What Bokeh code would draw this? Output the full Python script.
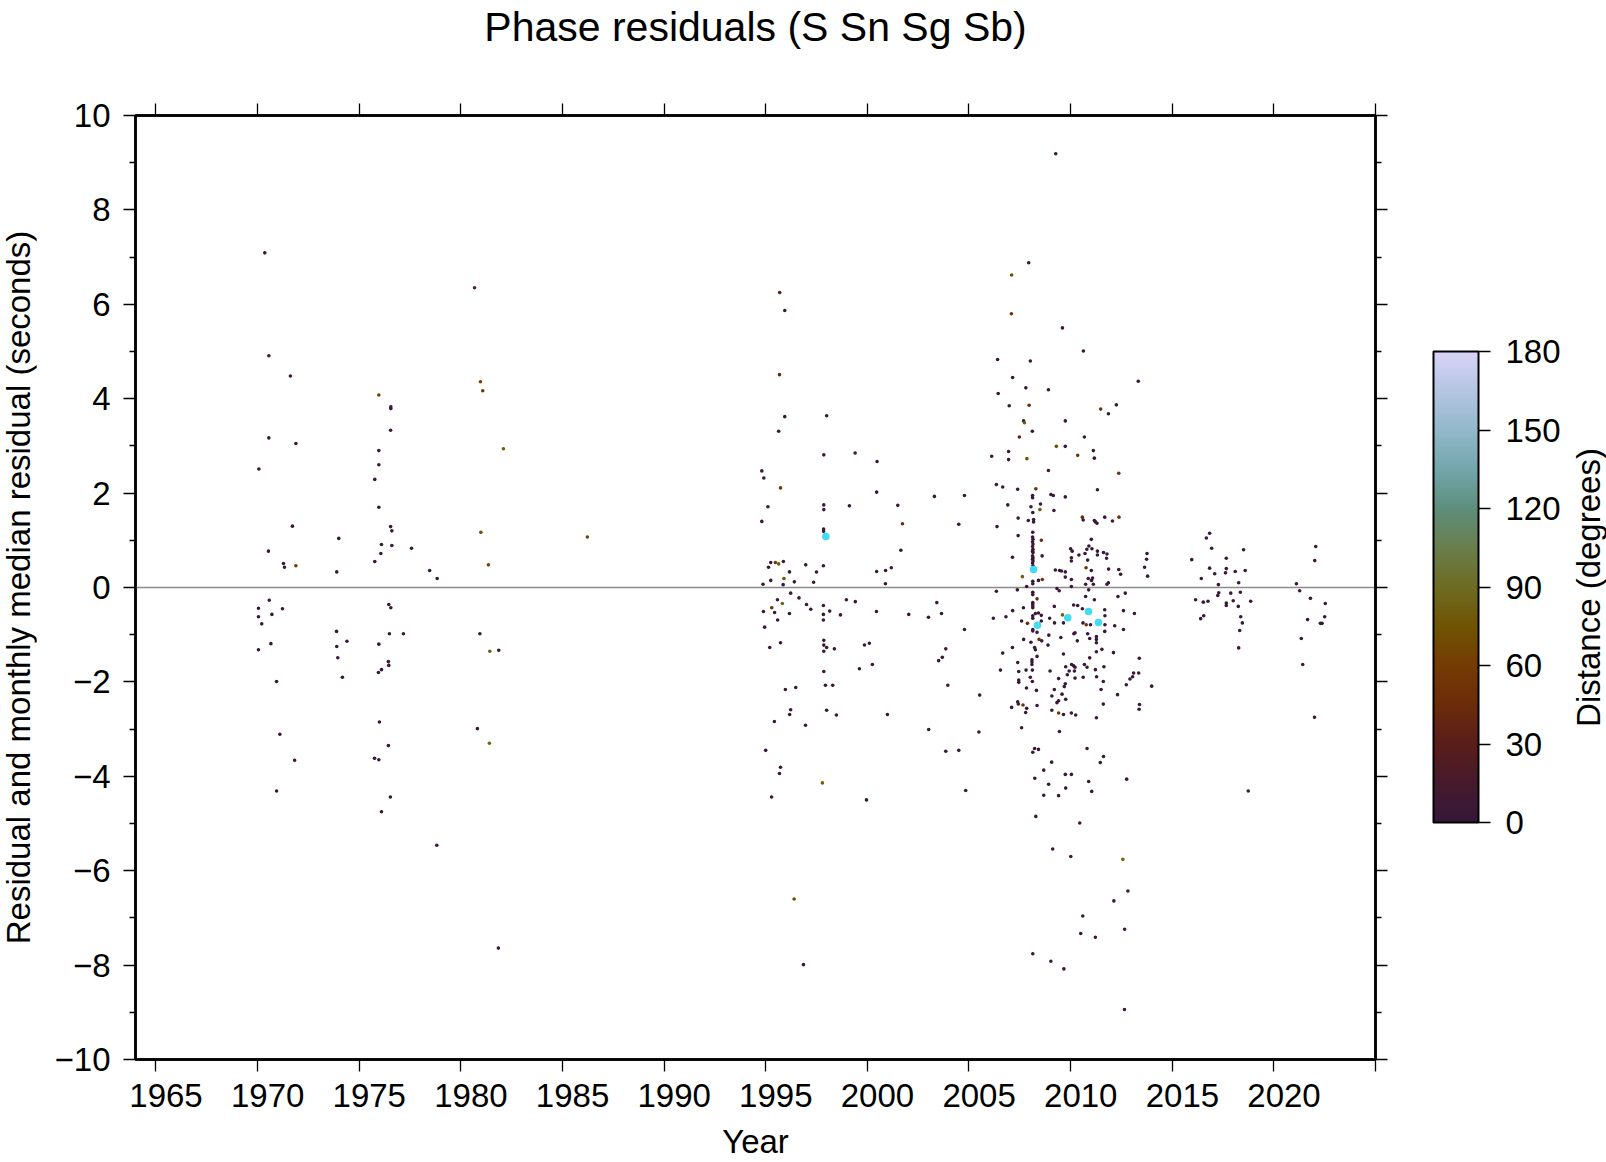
import math
from bokeh.plotting import figure
from bokeh.layouts import row
from bokeh.models import (Range1d, LinearAxis, FixedTicker, LinearColorMapper,
                          ColorBar, Span, ColumnDataSource)
from bokeh.embed import file_html
from bokeh.resources import INLINE

# ---------------- data (year, residual seconds, distance degrees) ----------------
P = 4  # distance of the dark (near-source) readings

pts_1970s = [
    (1970.36, 7.09, P), (1980.68, 6.35, 35), (1970.56, 4.91, P), (1971.62, 4.48, P),
    (1980.97, 4.36, 65), (1981.08, 4.17, 55), (1975.97, 4.08, 65), (1976.56, 3.83, P),
    (1976.56, 3.79, P), (1976.55, 3.33, P), (1970.56, 3.17, P), (1971.89, 3.05, P),
    (1982.10, 2.94, 80), (1975.97, 2.90, P), (1970.07, 2.51, P), (1975.97, 2.60, P),
    (1975.77, 2.29, P), (1975.97, 1.70, P), (1971.72, 1.30, P), (1976.55, 1.29, P),
    (1976.61, 1.20, P), (1980.99, 1.17, 65), (1974.00, 1.04, P), (1970.54, 0.77, P),
    (1976.10, 0.91, P), (1976.61, 0.89, P), (1977.58, 0.83, P), (1976.07, 0.72, P),
    (1971.28, 0.51, P), (1971.33, 0.43, P), (1971.89, 0.46, 60), (1975.77, 0.55, P),
    (1973.90, 0.33, P), (1978.47, 0.36, P), (1978.84, 0.19, P), (1981.36, 0.48, 65),
    (1986.23, 1.07, 65),
    (1970.58, -0.27, P), (1970.05, -0.44, P), (1971.23, -0.45, P), (1970.71, -0.57, P),
    (1970.05, -0.62, P), (1970.21, -0.77, P), (1976.46, -0.36, P), (1976.56, -0.43, P),
    (1973.89, -0.93, P), (1976.49, -0.98, P), (1977.18, -0.98, P), (1980.94, -0.98, P),
    (1974.40, -1.14, P), (1970.66, -1.19, P), (1975.97, -1.20, P), (1973.90, -1.25, P),
    (1970.05, -1.32, P), (1981.43, -1.35, 85), (1981.87, -1.33, P), (1973.95, -1.49, P),
    (1976.44, -1.57, P), (1976.46, -1.65, P), (1976.10, -1.74, P), (1975.95, -1.80, P),
    (1974.18, -1.90, P), (1970.94, -1.99, P), (1976.00, -2.85, P), (1980.82, -2.99, P),
    (1971.10, -3.11, P), (1981.41, -3.30, 85), (1976.44, -3.35, P), (1975.76, -3.62, P),
    (1975.97, -3.65, P), (1971.83, -3.66, P), (1970.94, -4.31, P), (1976.54, -4.44, P),
    (1976.10, -4.75, P), (1978.82, -5.46, P), (1981.85, -7.64, P),
]

pts_1990s = [
    (1995.69, 6.25, 30), (1995.94, 5.87, P), (1995.68, 4.51, 40), (1995.94, 3.62, P),
    (1998.00, 3.64, P), (1995.64, 3.31, P), (1997.86, 2.81, P), (1999.40, 2.85, P),
    (2000.48, 2.67, P), (1994.81, 2.47, P), (1994.91, 2.32, P), (1995.73, 2.11, 55),
    (2000.46, 2.02, P), (2003.30, 1.93, P), (2004.78, 1.95, P), (1995.11, 1.71, P),
    (1997.86, 1.75, P), (1997.86, 1.65, P), (1999.12, 1.73, P), (2001.50, 1.74, P),
    (1994.81, 1.40, P), (2001.73, 1.35, 45), (2004.50, 1.34, P), (1997.85, 1.24, P),
    (1997.85, 1.19, P), (2001.65, 0.79, P), (1995.25, 0.53, P), (1995.48, 0.53, 55),
    (1995.64, 0.50, 80), (1995.87, 0.55, P), (1995.14, 0.43, P), (1996.97, 0.48, P),
    (1997.84, 0.46, P), (1996.17, 0.33, P), (1997.50, 0.33, P), (2000.46, 0.34, P),
    (2000.90, 0.36, P), (2001.18, 0.42, P), (1995.25, 0.15, P), (1995.90, 0.19, 75),
    (1996.41, 0.12, P), (1997.36, 0.11, P), (1994.87, 0.07, P), (1995.86, 0.06, P),
    (2000.89, 0.08, P),
    (1996.23, -0.12, P), (1996.64, -0.22, P), (1995.58, -0.26, P), (1995.82, -0.34, 85),
    (1995.30, -0.43, 50), (1997.01, -0.36, P), (1997.22, -0.46, P), (1997.84, -0.38, P),
    (1998.97, -0.26, P), (1999.41, -0.30, P), (1994.89, -0.51, P), (1995.44, -0.53, P),
    (1996.17, -0.55, P), (1997.84, -0.57, P), (1998.15, -0.50, P), (1998.68, -0.58, P),
    (2000.45, -0.51, P), (2002.04, -0.57, P), (2003.01, -0.63, P), (2003.42, -0.32, P),
    (2003.65, -0.55, P), (1995.59, -0.69, P), (1997.84, -0.69, P), (1994.95, -0.84, P),
    (2004.78, -0.89, P), (1997.86, -1.12, P), (1995.73, -1.17, P), (1997.86, -1.22, P),
    (1998.00, -1.27, P), (1995.20, -1.27, P), (1998.38, -1.30, P), (1997.86, -1.35, P),
    (1999.86, -1.22, P), (2000.10, -1.18, P), (2003.86, -1.30, P), (2003.69, -1.48, P),
    (2003.51, -1.55, P), (2000.25, -1.63, P), (1999.61, -1.72, P), (1997.86, -1.78, P),
    (1997.94, -2.07, P), (1998.30, -2.07, P), (1996.48, -2.12, P), (1995.97, -2.16, P),
    (2003.96, -2.07, P), (1996.23, -2.59, P), (1996.18, -2.69, P), (1998.00, -2.60, P),
    (1998.48, -2.70, P), (2000.99, -2.69, P), (1995.43, -2.84, P), (1996.96, -2.92, P),
    (2003.02, -3.01, P), (1995.00, -3.45, P), (2003.86, -3.47, P), (2004.50, -3.45, P),
    (1995.73, -3.81, P), (1995.68, -3.94, P), (1997.79, -4.14, 80), (2004.84, -4.30, P),
    (1995.29, -4.44, P), (1999.96, -4.50, P), (1996.40, -6.60, 70), (1996.86, -7.99, P),
]

pts_2000s_upper = [
    (2009.27, 9.19, P), (2007.94, 6.88, P), (2007.10, 6.62, 70), (2007.09, 5.80, 50),
    (2009.60, 5.50, P), (2010.63, 5.01, P), (2006.41, 4.83, P), (2008.02, 4.80, P),
    (2007.15, 4.45, P), (2013.33, 4.37, P), (2007.80, 4.23, P), (2008.91, 4.19, P),
    (2006.44, 4.11, P), (2006.98, 3.85, P), (2007.96, 3.86, 45), (2012.25, 3.87, P),
    (2011.48, 3.78, 50), (2011.86, 3.68, P), (2007.69, 3.53, P), (2007.73, 3.49, 80),
    (2009.74, 3.53, P), (2008.12, 3.31, P), (2007.48, 3.19, 35), (2010.68, 3.19, P),
    (2009.30, 2.99, 70), (2009.74, 2.99, P), (2006.95, 2.88, P), (2011.12, 2.90, P),
    (2006.12, 2.78, P), (2006.95, 2.71, P), (2007.85, 2.73, 75), (2010.35, 2.80, 55),
    (2011.17, 2.74, P), (2008.91, 2.48, P), (2012.37, 2.42, 50), (2006.35, 2.18, P),
    (2006.66, 2.13, P), (2007.40, 2.08, P), (2008.29, 2.09, 50), (2008.13, 1.95, P),
    (2008.13, 1.90, P), (2009.03, 1.97, P), (2009.15, 1.95, P), (2009.74, 1.92, P),
    (2011.32, 2.07, P), (2006.91, 1.75, P), (2008.05, 1.71, P), (2008.52, 1.77, P),
    (2008.14, 1.59, P), (2008.49, 1.65, 80), (2009.18, 1.63, P), (2007.42, 1.47, P),
    (2007.92, 1.42, P), (2008.18, 1.44, P), (2008.18, 1.39, P), (2010.58, 1.49, 45),
    (2010.62, 1.43, P), (2011.17, 1.42, P), (2011.22, 1.39, P), (2011.30, 1.36, P),
    (2011.68, 1.49, P), (2012.06, 1.41, P), (2012.38, 1.49, 50), (2006.38, 1.29, P),
    (2008.14, 1.17, P), (2007.42, 1.10, P),
    (2008.13, 1.07, P), (2008.15, 1.02, P), (2008.13, 0.97, P), (2008.15, 0.92, P),
    (2008.13, 0.87, P), (2008.15, 0.81, P), (2008.13, 0.77, P), (2008.15, 0.74, P),
    (2008.13, 0.67, P), (2008.15, 0.63, P), (2008.13, 0.60, P), (2008.15, 0.56, P),
    (2008.13, 0.52, P), (2008.15, 0.46, P),
    (2008.56, 1.00, 45), (2011.02, 1.02, P), (2010.90, 0.88, P), (2011.32, 0.77, P),
    (2011.32, 0.69, P), (2011.05, 0.82, P), (2010.80, 0.81, P), (2010.00, 0.82, P),
    (2010.08, 0.77, P), (2010.41, 0.69, P), (2010.71, 0.72, P), (2011.62, 0.74, P),
    (2011.79, 0.71, P), (2011.77, 0.62, P), (2013.76, 0.72, P), (2013.74, 0.60, P),
    (2010.04, 0.63, P), (2007.14, 0.64, P), (2008.60, 0.67, P), (2010.84, 0.58, P),
    (2010.04, 0.56, P), (2010.76, 0.42, 50), (2011.02, 0.36, P), (2009.25, 0.37, P),
    (2009.46, 0.36, P), (2009.55, 0.35, P), (2009.74, 0.33, P), (2011.87, 0.39, P),
    (2012.37, 0.38, P), (2013.64, 0.43, P), (2009.74, 0.22, P), (2010.04, 0.17, P),
    (2013.79, 0.24, P), (2010.87, 0.19, P), (2011.08, 0.20, P), (2011.03, 0.15, P),
    (2012.46, 0.28, P), (2007.63, 0.23, 80), (2008.42, 0.15, P), (2008.61, 0.17, 50),
    (2008.14, 0.13, P), (2008.14, 0.08, P), (2007.84, 0.02, P), (2010.04, 0.02, P),
    (2011.12, 0.07, P), (2011.79, 0.07, P), (2011.86, 0.10, P), (2010.74, 0.07, P),
]

pts_2000s_lower = [
    (2006.35, -0.08, P), (2007.38, -0.05, P), (2009.33, -0.02, P), (2009.44, -0.07, P),
    (2010.89, -0.05, P), (2008.14, -0.10, P), (2008.14, -0.15, P), (2012.69, -0.12, P),
    (2010.74, -0.19, P), (2011.17, -0.26, P), (2012.33, -0.19, P), (2008.14, -0.32, P),
    (2008.14, -0.35, P), (2008.14, -0.39, P), (2008.14, -0.43, P), (2008.35, -0.24, 45),
    (2009.20, -0.40, P), (2010.15, -0.37, P), (2010.35, -0.38, P), (2010.58, -0.45, P),
    (2011.68, -0.47, P), (2007.68, -0.43, P), (2008.27, -0.55, P), (2008.42, -0.54, P),
    (2008.56, -0.59, P), (2007.15, -0.49, P), (2006.20, -0.65, P), (2006.82, -0.62, P),
    (2008.14, -0.60, P), (2008.14, -0.65, P), (2009.60, -0.58, 80), (2008.97, -0.65, P),
    (2012.60, -0.49, P), (2013.14, -0.55, P), (2011.69, -0.60, P), (2008.56, -0.71, P),
    (2007.59, -0.71, P), (2007.88, -0.76, 45), (2009.21, -0.75, P), (2009.65, -0.75, P),
    (2010.61, -0.75, P), (2010.77, -0.79, 50), (2010.98, -0.79, P), (2012.17, -0.81, P),
    (2011.69, -0.79, P), (2008.14, -0.89, P), (2008.14, -0.92, P), (2008.35, -0.95, P),
    (2010.22, -0.96, P), (2010.16, -0.98, P), (2012.60, -0.89, P), (2011.68, -0.93, P),
    (2010.84, -0.98, P), (2011.27, -1.04, P), (2011.27, -1.10, P), (2011.27, -1.17, P),
    (2009.52, -1.06, P), (2008.93, -1.01, P), (2008.45, -1.10, 50), (2008.58, -1.13, P),
    (2007.69, -1.10, P), (2010.33, -1.13, P), (2010.94, -1.08, P), (2008.05, -1.16, P),
    (2008.89, -1.22, P), (2007.14, -1.27, P), (2008.23, -1.27, P), (2008.27, -1.32, P),
    (2011.27, -1.36, P), (2011.54, -1.31, P), (2012.11, -1.38, P), (2006.66, -1.39, P),
    (2009.65, -1.41, P), (2008.35, -1.46, P), (2010.94, -1.49, P), (2013.38, -1.50, P),
    (2008.10, -1.53, P), (2008.10, -1.58, P), (2008.10, -1.63, P), (2007.40, -1.59, P),
    (2010.05, -1.63, P), (2010.15, -1.66, P), (2010.22, -1.69, P), (2009.76, -1.68, P),
    (2010.68, -1.63, P), (2010.81, -1.69, P), (2011.22, -1.74, P), (2011.64, -1.68, P),
    (2006.55, -1.75, P), (2007.45, -1.78, P), (2007.81, -1.75, P), (2008.12, -1.75, P),
    (2008.99, -1.77, P), (2009.93, -1.77, P), (2010.19, -1.77, P), (2009.84, -1.85, P),
    (2013.10, -1.81, P), (2013.35, -1.81, P), (2013.05, -1.89, P), (2012.92, -1.94, P),
    (2008.02, -1.90, P), (2009.41, -1.93, P), (2010.22, -1.92, P), (2010.62, -1.90, P),
    (2011.28, -1.89, P), (2007.45, -1.96, P), (2007.45, -2.01, P), (2008.12, -1.99, P),
    (2009.74, -2.04, P), (2009.69, -2.10, P), (2012.74, -2.06, P), (2011.61, -1.99, P),
    (2007.83, -2.13, P), (2008.32, -2.18, P), (2009.20, -2.16, P), (2011.50, -2.16, P),
    (2005.53, -2.28, P), (2009.58, -2.26, P), (2009.08, -2.30, P), (2009.76, -2.37, P),
    (2009.41, -2.40, P), (2009.33, -2.44, P), (2011.61, -2.47, P), (2012.31, -2.27, P),
    (2013.39, -2.48, P), (2013.37, -2.58, P), (2007.40, -2.42, P), (2007.43, -2.47, P),
    (2007.66, -2.49, 50), (2007.10, -2.54, P), (2007.84, -2.56, P), (2008.35, -2.50, P),
    (2009.08, -2.60, P), (2009.65, -2.69, P), (2010.04, -2.66, P), (2010.25, -2.70, P),
    (2009.41, -2.66, 55), (2011.27, -2.76, P), (2007.79, -2.65, P), (2007.59, -2.97, P),
    (2009.45, -3.05, P), (2005.49, -3.06, P), (2008.23, -3.41, P), (2008.42, -3.43, P),
    (2010.81, -3.41, P), (2008.14, -3.49, P), (2011.62, -3.58, P), (2011.46, -3.71, P),
    (2009.07, -3.70, P), (2008.68, -3.87, P), (2009.74, -3.96, P), (2010.04, -3.96, P),
    (2008.24, -4.04, P), (2012.76, -4.06, P), (2010.89, -4.11, P), (2008.92, -4.17, P),
    (2009.76, -4.25, P), (2011.04, -4.32, P), (2008.68, -4.40, P), (2009.41, -4.41, P),
    (2008.29, -4.85, P), (2010.45, -4.99, P), (2009.12, -5.54, P), (2010.01, -5.70, P),
    (2012.57, -5.76, 85), (2012.82, -6.43, P), (2012.13, -6.64, P), (2010.60, -6.96, P),
    (2010.50, -7.33, P), (2011.22, -7.41, P), (2012.66, -7.24, P), (2008.14, -7.76, P),
    (2009.03, -7.92, P), (2009.67, -8.08, P), (2012.65, -8.94, P), (2013.99, -2.09, P),
]

pts_2010s = [
    (2016.84, 1.15, P), (2016.68, 1.05, P), (2022.06, 0.87, P), (2016.94, 0.83, P),
    (2018.51, 0.80, P), (2015.96, 0.59, P), (2017.66, 0.62, P), (2022.01, 0.57, P),
    (2016.84, 0.41, P), (2017.66, 0.40, P), (2018.10, 0.34, P), (2018.59, 0.36, P),
    (2017.09, 0.29, P), (2017.62, 0.31, P), (2016.43, 0.19, P), (2018.27, 0.10, P),
    (2017.27, 0.06, P), (2021.11, 0.08, P),
    (2017.29, -0.11, P), (2017.24, -0.17, P), (2017.88, -0.12, P), (2018.35, -0.10, P),
    (2021.27, -0.07, P), (2016.15, -0.26, P), (2016.53, -0.31, P), (2016.76, -0.29, P),
    (2018.00, -0.28, P), (2018.86, -0.29, P), (2017.66, -0.33, P), (2017.66, -0.38, P),
    (2018.25, -0.40, P), (2021.80, -0.23, P), (2022.53, -0.34, P), (2016.55, -0.60, P),
    (2016.40, -0.66, P), (2018.37, -0.62, P), (2018.45, -0.75, P), (2022.50, -0.62, P),
    (2021.66, -0.68, P), (2022.29, -0.76, P), (2022.37, -0.76, P), (2018.32, -0.91, P),
    (2021.35, -1.08, P), (2018.27, -1.28, P), (2021.42, -1.63, P), (2022.00, -2.75, P),
    (2018.74, -4.31, P),
]

# monthly median residuals
median_year = [1997.96, 2008.18, 2008.37, 2009.86, 2010.88, 2011.37]
median_residual = [1.08, 0.38, -0.80, -0.64, -0.51, -0.74]

x_ticks = [1965, 1970, 1975, 1980, 1985, 1990, 1995, 2000, 2005, 2010, 2015, 2020, 2025]
x_labels = ["1965", "1970", "1975", "1980", "1985", "1990", "1995", "2000", "2005",
            "2010", "2015", "2020"]
y_ticks = [-10, -8, -6, -4, -2, 0, 2, 4, 6, 8, 10]
y_minor = [-9, -7, -5, -3, -1, 1, 3, 5, 7, 9]
cb_ticks = [0, 30, 60, 90, 120, 150, 180]

TITLE = "Phase residuals (S Sn Sg Sb)"
X_LABEL = "Year"
Y_LABEL = "Residual and monthly median residual (seconds)"
CB_LABEL = "Distance (degrees)"

# ---------------- style ----------------
FONT = "Liberation Sans"
anchors = [(0, (0x36, 0x18, 0x3a)), (15, (0x46, 0x1a, 0x2c)), (30, (0x5a, 0x1e, 0x1a)),
           (45, (0x6c, 0x2c, 0x0a)), (60, (0x74, 0x3c, 0x04)), (75, (0x70, 0x54, 0x04)),
           (90, (0x6e, 0x6c, 0x22)), (105, (0x6a, 0x7e, 0x4c)), (120, (0x5e, 0x8e, 0x7c)),
           (135, (0x72, 0xa6, 0xaa)), (150, (0x92, 0xb8, 0xca)), (165, (0xb4, 0xc4, 0xe2)),
           (180, (0xd8, 0xd4, 0xf8))]
palette = []
for i in range(256):
    v = 180.0 * i / 255
    for (a, ca), (b, cb_) in zip(anchors[:-1], anchors[1:]):
        if a <= v <= b:
            t = (v - a) / (b - a)
            c = [round(ca[k] + (cb_[k] - ca[k]) * t) for k in range(3)]
            palette.append("#%02x%02x%02x" % tuple(c))
            break

all_pts = pts_1970s + pts_1990s + pts_2000s_upper + pts_2000s_lower + pts_2010s
src = ColumnDataSource(dict(year=[q[0] for q in all_pts],
                            res=[q[1] for q in all_pts],
                            dist=[q[2] for q in all_pts]))

TOTAL_W, H = 1606, 1162
W_LEFT = 36                # strip on the left holding the y-axis caption
W_RIGHT = 40               # strip on the right holding the colour-bar caption
W = TOTAL_W - W_LEFT - W_RIGHT
FL_PAGE, FT, FW, FH = 135, 114, 1240, 945
FL = FL_PAGE - W_LEFT
FB = H - FT - FH

p = figure(width=W, height=H, x_range=Range1d(1964, 2025), y_range=Range1d(-10, 10),
           output_backend="svg", toolbar_location=None,
           min_border_left=FL, min_border_top=FT,
           min_border_right=W - FL - FW, min_border_bottom=FB,
           x_axis_location=None, y_axis_location=None)
p.grid.visible = False
p.outline_line_color = "black"
p.outline_line_width = 2.5
p.background_fill_color = "white"
p.border_fill_color = "white"


def style_axis(ax, ticker, labels=True, overrides=None):
    ax.ticker = ticker
    ax.axis_line_width = 2.5
    ax.axis_line_color = "black"
    ax.major_tick_in = 0
    ax.major_tick_out = 12
    ax.minor_tick_in = 0
    ax.minor_tick_out = 6
    ax.major_tick_line_width = 1.3
    ax.minor_tick_line_width = 1.3
    ax.major_tick_line_color = "black"
    ax.minor_tick_line_color = "black"
    ax.major_label_text_font = FONT
    ax.major_label_text_font_size = "33px"
    ax.major_label_text_color = "black"
    ax.axis_label_text_font = FONT
    ax.axis_label_text_font_style = "normal"
    ax.axis_label_text_color = "black"
    ax.axis_label_text_font_size = "33px"
    if overrides:
        ax.major_label_overrides = overrides
    if not labels:
        ax.major_label_text_font_size = "1px"
        ax.major_label_text_color = None
        ax.major_label_standoff = 0


def caption_strip(width, text):
    """A thin figure whose only content is a bottom-to-top caption (left-axis label)."""
    f = figure(width=width, height=H, x_range=Range1d(0, 1), y_range=Range1d(0, 1),
               output_backend="svg", toolbar_location=None,
               min_border_left=width - 1, min_border_right=0,
               min_border_top=FT, min_border_bottom=FB,
               x_axis_location=None, y_axis_location=None)
    f.grid.visible = False
    f.outline_line_color = None
    f.border_fill_color = "white"
    f.background_fill_color = "white"
    ax = LinearAxis()
    style_axis(ax, FixedTicker(ticks=[]), labels=False)
    ax.axis_line_color = None
    ax.major_tick_out = 0
    ax.minor_tick_out = 0
    ax.axis_label = text
    ax.axis_label_standoff = 0
    f.add_layout(ax, "left")
    return f


mapper = LinearColorMapper(palette=palette, low=0, high=180)

# bottom: tick marks only
xb = LinearAxis()
style_axis(xb, FixedTicker(ticks=x_ticks, minor_ticks=[]), labels=False)
p.add_layout(xb, "below")
# bottom: year annotations (GMT places them half a year right of the tick) + axis label
label_pos = [int(s) + 0.5 for s in x_labels]
xl = LinearAxis()
style_axis(xl, FixedTicker(ticks=label_pos, minor_ticks=[]),
           overrides={pos: s for pos, s in zip(label_pos, x_labels)})
xl.axis_line_color = None
xl.major_tick_line_color = None
xl.minor_tick_line_color = None
xl.major_tick_out = 0
xl.minor_tick_out = 0
xl.major_label_standoff = 12
xl.axis_label = X_LABEL
xl.axis_label_standoff = 13
p.add_layout(xl, "below")

xt = LinearAxis()
style_axis(xt, FixedTicker(ticks=x_ticks, minor_ticks=[]), labels=False)
xt.axis_label = TITLE
xt.axis_label_text_font_size = "41px"
xt.axis_label_standoff = 54
p.add_layout(xt, "above")

yl = LinearAxis()
style_axis(yl, FixedTicker(ticks=y_ticks, minor_ticks=y_minor),
           overrides={t: (("\u2212" + str(-t)) if t < 0 else str(t)) for t in y_ticks})
yl.major_label_standoff = 13
p.add_layout(yl, "left")

yr = LinearAxis()
style_axis(yr, FixedTicker(ticks=y_ticks, minor_ticks=y_minor), labels=False)
p.add_layout(yr, "right")

zero = Span(location=0, dimension="width", line_color="#8c8c8c", line_width=1.6, level="underlay")
p.add_layout(zero)

p.scatter("year", "res", source=src, size=3.6, marker="circle",
          fill_color={"field": "dist", "transform": mapper}, line_color=None)
p.scatter(median_year, median_residual, size=7.5, marker="circle",
          fill_color="#3fdcf2", line_color=None)

cb = ColorBar(color_mapper=mapper, ticker=FixedTicker(ticks=cb_ticks),
              width=45, height=471, location=(1298, 237), padding=0,
              bar_line_color="black", bar_line_width=2,
              major_tick_in=0, major_tick_out=12, major_tick_line_color="black",
              major_tick_line_width=1.3, minor_tick_line_color=None,
              major_label_text_font=FONT, major_label_text_font_size="33px",
              major_label_text_color="black", label_standoff=15,
              background_fill_alpha=0, border_line_color=None)
p.add_layout(cb, "center")

p_left = caption_strip(W_LEFT, Y_LABEL)
p_right = caption_strip(W_RIGHT, CB_LABEL)

layout = row(p_left, p, p_right, spacing=0)
open("out.html", "w").write(file_html(layout, INLINE))
